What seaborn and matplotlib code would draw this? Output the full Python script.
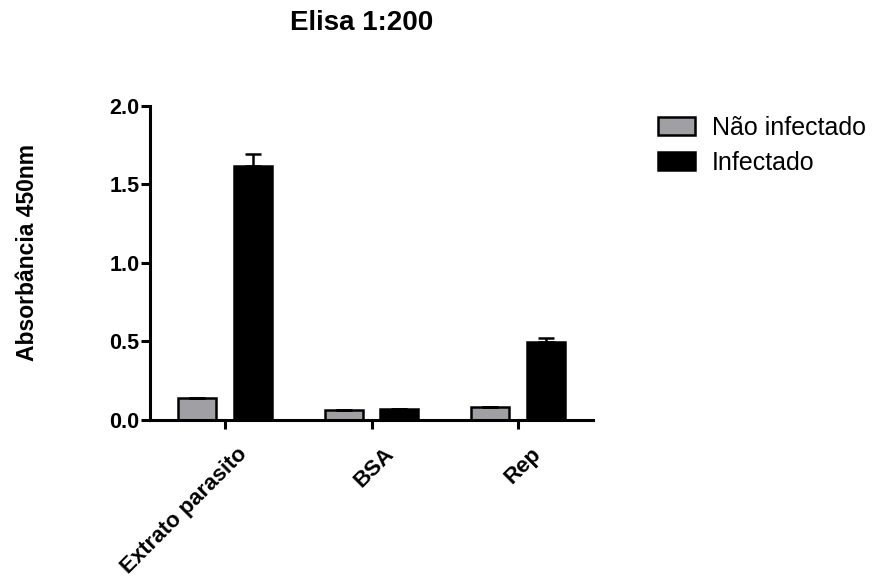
import numpy as np
import pandas as pd
import matplotlib
matplotlib.use("Agg")
import matplotlib.pyplot as plt
import matplotlib.transforms as mtransforms
import seaborn as sns
from matplotlib.patches import Patch

# Données (absorbance à 450 nm)
antigenos = ["Extrato parasito", "BSA", "Rep"]
grupos = ["Não infectado", "Infectado"]
nao_infectado = [0.138, 0.064, 0.081]
infectado = [1.618, 0.068, 0.495]
erro_nao_infectado = [0.004, 0.002, 0.004]
erro_infectado = [0.076, 0.003, 0.025]

df = pd.DataFrame({
    "antigeno": antigenos * 2,
    "grupo": [grupos[0]] * 3 + [grupos[1]] * 3,
    "abs": nao_infectado + infectado,
    "erro": erro_nao_infectado + erro_infectado,
})

sns.set_theme(style="ticks", rc={"text.color": "black", "axes.edgecolor": "black",
                                 "xtick.color": "black", "ytick.color": "black",
                                 "axes.labelcolor": "black"})
plt.rcParams["font.family"] = ["Liberation Sans", "DejaVu Sans"]

fig = plt.figure(figsize=(8.76, 5.78), dpi=100)
ax = fig.add_axes([0.1712, 0.2734, 0.5058, 0.5437])

cores = {grupos[0]: "#a0a0a4", grupos[1]: "#000000"}
sns.barplot(data=df, x="antigeno", y="abs", hue="grupo", order=antigenos,
            hue_order=grupos, palette=cores, width=0.76, gap=0.32,
            edgecolor="black", linewidth=1.8, errorbar=None, ax=ax,
            legend=False)

# barres d'erreur : seulement vers le haut
for patch, (_, row) in zip(ax.patches, df.iterrows()):
    xc = patch.get_x() + patch.get_width() / 2
    h = patch.get_height()
    ax.errorbar(xc, h, yerr=[[0], [row["erro"]]], fmt="none", ecolor="black",
                elinewidth=1.8, capsize=5.8, capthick=1.8)

ax.set_xlim(-0.51, 2.51)
ax.set_ylim(0, 2.0)
ax.set_yticks([0.0, 0.5, 1.0, 1.5, 2.0])
ax.set_yticklabels(["0.0", "0.5", "1.0", "1.5", "2.0"], fontweight="bold", fontsize=15.5)
ax.set_xticks(range(3))
ax.set_xticklabels(antigenos, rotation=45, ha="right", rotation_mode="anchor",
                   fontweight="bold", fontsize=16)
ax.set_xlabel("")
ax.set_ylabel("")
for s in ["left", "bottom"]:
    ax.spines[s].set_linewidth(2.2)
sns.despine(ax=ax)
ax.tick_params(axis="both", width=2.2, length=6.5, direction="out", pad=1,
               colors="black")

# décalage des étiquettes inclinées (style Prism) - après tick_params
decal = mtransforms.ScaledTranslation(0.12, -0.13, fig.dpi_scale_trans)
for lab in ax.xaxis.get_majorticklabels():
    lab.set_transform(lab.get_transform() + decal)

fig.text(0.413, 0.96, "Elisa 1:200", ha="center", va="center",
         fontsize=20, fontweight="bold")
fig.text(0.031, 0.564, "Absorbância 450nm", ha="center", va="center",
         rotation=90, fontsize=16.5, fontweight="bold")

handles = [Patch(facecolor=cores[g], edgecolor="black", linewidth=1.8, label=g)
           for g in grupos]
fig.legend(handles=handles, loc="upper left", bbox_to_anchor=(0.751, 0.80),
           frameon=False, fontsize=18, handlelength=1.48, handleheight=0.76,
           handletextpad=0.68, labelspacing=0.45, borderpad=0, borderaxespad=0)

fig.savefig("out.png", dpi=100)
